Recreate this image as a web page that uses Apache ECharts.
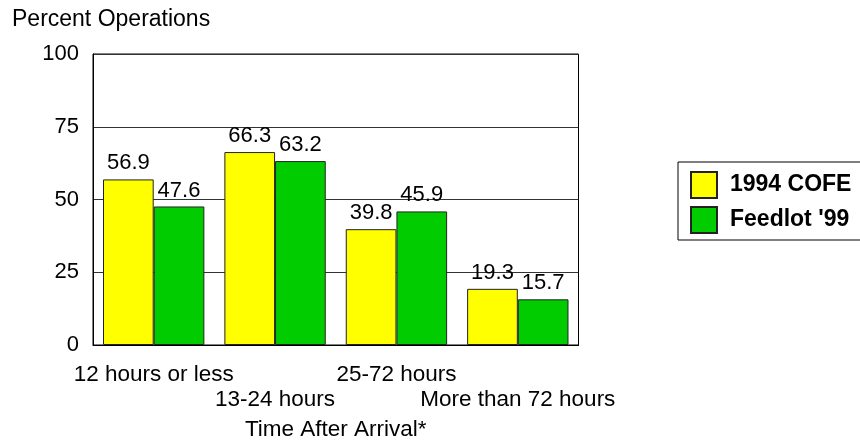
<!DOCTYPE html>
<html>
<head>
<meta charset="utf-8">
<script src="https://cdn.jsdelivr.net/npm/echarts/dist/echarts.min.js"></script>
<style>
  html, body { margin: 0; padding: 0; background: #fff; }
  #chart { width: 860px; height: 445px; }
</style>
</head>
<body>
<div id="chart"></div>
<script>
// Share of operations by time after arrival
const categories = ['12 hours or less', '13-24 hours', '25-72 hours', 'More than 72 hours'];
const cofe1994 = [56.9, 66.3, 39.8, 19.3];
const feedlot99 = [47.6, 63.2, 45.9, 15.7];
const seriesNames = ['1994 COFE', "Feedlot '99"];
const yMin = 0, yMax = 100, yStep = 25;

const FONT = "'Liberation Sans', Arial, Helvetica, sans-serif";
const FS = 22;

// staggered category labels: every second one drops to a lower row
const labelRich = {
  top: { fontSize: 22.5, fontFamily: FONT, color: '#000' },
  low: { fontSize: 22.5, fontFamily: FONT, color: '#000', padding: [25, 0, 0, 0] }
};

const chart = echarts.init(document.getElementById('chart'), null, { renderer: 'canvas' });

chart.setOption({
  animation: false,
  backgroundColor: '#fff',
  textStyle: { fontFamily: FONT },
  title: {
    text: 'Percent Operations',
    left: 12,
    top: 8,
    padding: 0,
    textStyle: { fontSize: 23, fontWeight: 'normal', color: '#000', fontFamily: FONT }
  },
  grid: {
    left: 93, top: 54, right: 281.5, bottom: 100,
    show: true, borderColor: '#000', borderWidth: 1,
    containLabel: false, outerBoundsMode: 'none'
  },
  legend: {
    orient: 'vertical',
    left: 678, top: 162,
    itemWidth: 26, itemHeight: 26, itemGap: 7,
    padding: [9, 30, 6, 12],
    borderColor: '#000', borderWidth: 1,
    icon: 'rect',
    selectedMode: false,
    data: seriesNames,
    textStyle: { fontSize: 23, lineHeight: 26, fontWeight: 'bold', color: '#000', fontFamily: FONT, padding: [0, 0, 0, 8] }
  },
  xAxis: {
    type: 'category',
    data: categories,
    axisLine: { show: true, lineStyle: { color: '#000', width: 1 } },
    axisTick: { show: false },
    axisLabel: {
      interval: 0,
      margin: 18,
      hideOverlap: false,
      formatter: function (v, i) { return (i % 2 ? '{low|' : '{top|') + v + '}'; },
      rich: labelRich
    },
    name: 'Time After Arrival*',
    nameLocation: 'middle',
    nameGap: 73,
    nameTextStyle: { fontSize: 22.5, color: '#000', fontFamily: FONT }
  },
  yAxis: {
    type: 'value',
    min: yMin, max: yMax, interval: yStep,
    axisLine: { show: true, lineStyle: { color: '#000', width: 1 } },
    axisTick: { show: false },
    axisLabel: { margin: 14, fontSize: FS, color: '#000', fontFamily: FONT },
    splitLine: { show: true, lineStyle: { color: '#333', width: 1 } }
  },
  series: [
    {
      name: seriesNames[0],
      type: 'bar',
      data: cofe1994,
      barGap: '0%',
      barCategoryGap: '16.5%',
      itemStyle: { color: '#ffff00', borderColor: '#222', borderWidth: 1 },
      label: { show: true, position: 'top', distance: 5, fontSize: FS, color: '#000', fontFamily: FONT }
    },
    {
      name: seriesNames[1],
      type: 'bar',
      data: feedlot99,
      barGap: '0%',
      barCategoryGap: '16.5%',
      itemStyle: { color: '#00cc00', borderColor: '#222', borderWidth: 1 },
      label: { show: true, position: 'top', distance: 5, fontSize: FS, color: '#000', fontFamily: FONT }
    }
  ]
});
</script>
</body>
</html>
